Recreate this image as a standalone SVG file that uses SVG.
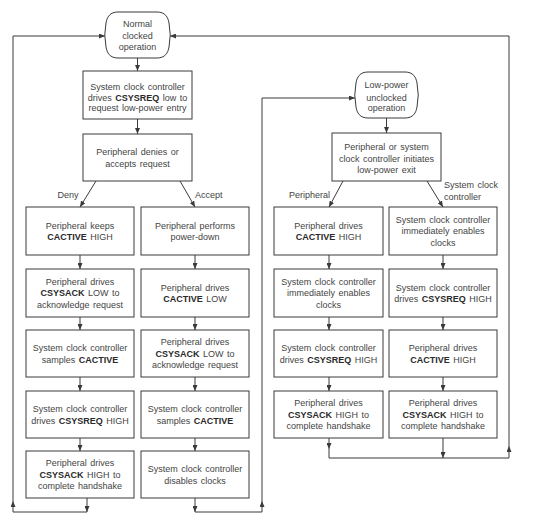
<svg xmlns="http://www.w3.org/2000/svg" width="534" height="524" viewBox="0 0 534 524">
<style>
.b{fill:#fff;stroke:#3a3a3a;stroke-width:1}
.c{fill:none;stroke:#3a3a3a;stroke-width:1}
text{font-family:"Liberation Sans",Arial,sans-serif;font-size:9px;fill:#444;text-anchor:middle;word-spacing:1px}
.k{font-weight:bold;fill:#2a2a2a}
.l{text-anchor:start}
</style>
<defs>
<marker id="a" markerWidth="6" markerHeight="5" refX="6" refY="2.5" orient="auto" markerUnits="userSpaceOnUse"><path d="M0,0 L6,2.5 L0,5 z" fill="#3a3a3a"/></marker>
</defs>
<rect width="534" height="524" fill="#fff"/>
<g id="connectors">
<path class="c" d="M137.5 58 V71" marker-end="url(#a)"/>
<path class="c" d="M137.5 119 V134" marker-end="url(#a)"/>
<path class="c" d="M96 181 L80 207" marker-end="url(#a)"/>
<path class="c" d="M180 181 L195 207" marker-end="url(#a)"/>
<path class="c" d="M80 255 V269" marker-end="url(#a)"/>
<path class="c" d="M80 317 V330" marker-end="url(#a)"/>
<path class="c" d="M80 377 V391" marker-end="url(#a)"/>
<path class="c" d="M80 438 V451" marker-end="url(#a)"/>
<path class="c" d="M195 255 V269" marker-end="url(#a)"/>
<path class="c" d="M195 317 V330" marker-end="url(#a)"/>
<path class="c" d="M195 377 V391" marker-end="url(#a)"/>
<path class="c" d="M195 438 V451" marker-end="url(#a)"/>
<path class="c" d="M87 498 V512" marker-end="url(#a)"/>
<path class="c" d="M87 512 H13 V501" marker-end="url(#a)"/>
<path class="c" d="M13 501 V36 H105" marker-end="url(#a)"/>
<path class="c" d="M195 498 V512" marker-end="url(#a)"/>
<path class="c" d="M195 512 H262 V501" marker-end="url(#a)"/>
<path class="c" d="M262 501 V98 H355" marker-end="url(#a)"/>
<path class="c" d="M386.5 118 V133" marker-end="url(#a)"/>
<path class="c" d="M343 181 L329 207" marker-end="url(#a)"/>
<path class="c" d="M427 181 L443 207" marker-end="url(#a)"/>
<path class="c" d="M329 255 V269" marker-end="url(#a)"/>
<path class="c" d="M329 317 V330" marker-end="url(#a)"/>
<path class="c" d="M329 377 V391" marker-end="url(#a)"/>
<path class="c" d="M443 255 V269" marker-end="url(#a)"/>
<path class="c" d="M443 317 V330" marker-end="url(#a)"/>
<path class="c" d="M443 377 V391" marker-end="url(#a)"/>
<path class="c" d="M329 438 V449" marker-end="url(#a)"/>
<path class="c" d="M443 438 V458" marker-end="url(#a)"/>
<path class="c" d="M329 449 V458 H509 V446" marker-end="url(#a)"/>
<path class="c" d="M509 446 V36 H170" marker-end="url(#a)"/>
<text x="68" y="197.5">Deny</text>
<text class="l" x="195" y="197.5">Accept</text>
<text class="l" x="289" y="198">Peripheral</text>
<text class="l" x="444" y="188">System clock</text>
<text class="l" x="444" y="200">controller</text>
</g>
<g id="normal">
<path class="b" d="M118 12 H157 C165 12 168 17 169 23 Q171.5 35 169 47 C168 53 165 58 157 58 H118 C110 58 107 53 106 47 Q103.5 35 106 23 C107 17 110 12 118 12 Z"/>
<text x="137.5" y="27">Normal</text>
<text x="137.5" y="39">clocked</text>
<text x="137.5" y="50">operation</text>
</g>
<g id="req-entry">
<rect class="b" x="83" y="71" width="109" height="48"/>
<text x="137.5" y="90">System clock controller</text>
<text x="137.5" y="100.5">drives <tspan class="k">CSYSREQ</tspan> low to</text>
<text x="137.5" y="111">request low-power entry</text>
</g>
<g id="deny-accept">
<rect class="b" x="83" y="134" width="109" height="47"/>
<text x="137.5" y="155">Peripheral denies or</text>
<text x="137.5" y="166.5">accepts request</text>
</g>
<g id="d1">
<rect class="b" x="26" y="207" width="108" height="48"/>
<text x="80" y="228.5">Peripheral keeps</text>
<text x="80" y="240"><tspan class="k">CACTIVE</tspan> HIGH</text>
</g>
<g id="d2">
<rect class="b" x="26" y="269" width="108" height="48"/>
<text x="80" y="284.7">Peripheral drives</text>
<text x="80" y="296.2"><tspan class="k">CSYSACK</tspan> LOW to</text>
<text x="80" y="307.7">acknowledge request</text>
</g>
<g id="d3">
<rect class="b" x="26" y="330" width="108" height="47"/>
<text x="80" y="351">System clock controller</text>
<text x="80" y="362.5">samples <tspan class="k">CACTIVE</tspan></text>
</g>
<g id="d4">
<rect class="b" x="26" y="391" width="108" height="47"/>
<text x="80" y="412">System clock controller</text>
<text x="80" y="423.5">drives <tspan class="k">CSYSREQ</tspan> HIGH</text>
</g>
<g id="d5">
<rect class="b" x="26" y="451" width="108" height="47"/>
<text x="80" y="466.2">Peripheral drives</text>
<text x="80" y="477.7"><tspan class="k">CSYSACK</tspan> HIGH to</text>
<text x="80" y="489.2">complete handshake</text>
</g>
<g id="a1">
<rect class="b" x="141" y="207" width="108" height="48"/>
<text x="195" y="228.5">Peripheral performs</text>
<text x="195" y="240">power-down</text>
</g>
<g id="a2">
<rect class="b" x="141" y="269" width="108" height="48"/>
<text x="195" y="290.5">Peripheral drives</text>
<text x="195" y="302"><tspan class="k">CACTIVE</tspan> LOW</text>
</g>
<g id="a3">
<rect class="b" x="141" y="330" width="108" height="47"/>
<text x="195" y="345.2">Peripheral drives</text>
<text x="195" y="356.7"><tspan class="k">CSYSACK</tspan> LOW to</text>
<text x="195" y="368.2">acknowledge request</text>
</g>
<g id="a4">
<rect class="b" x="141" y="391" width="108" height="47"/>
<text x="195" y="412">System clock controller</text>
<text x="195" y="423.5">samples <tspan class="k">CACTIVE</tspan></text>
</g>
<g id="a5">
<rect class="b" x="141" y="451" width="108" height="47"/>
<text x="195" y="472">System clock controller</text>
<text x="195" y="483.5">disables clocks</text>
</g>
<g id="lowpower">
<path class="b" d="M368 72 H405 C413 72 416 77 417 83 Q419.5 95 417 107 C416 113 413 118 405 118 H368 C360 118 357 113 356 107 Q353.5 95 356 83 C357 77 360 72 368 72 Z"/>
<text x="386.5" y="88">Low-power</text>
<text x="386.5" y="100.5">unclocked</text>
<text x="386.5" y="111">operation</text>
</g>
<g id="initiate-exit">
<rect class="b" x="332" y="133" width="109" height="48"/>
<text x="386.5" y="150">Peripheral or system</text>
<text x="386.5" y="161.5">clock controller initiates</text>
<text x="386.5" y="173">low-power exit</text>
</g>
<g id="p1">
<rect class="b" x="274" y="207" width="109" height="48"/>
<text x="328.5" y="228.5">Peripheral drives</text>
<text x="328.5" y="240"><tspan class="k">CACTIVE</tspan> HIGH</text>
</g>
<g id="p2">
<rect class="b" x="274" y="269" width="109" height="48"/>
<text x="328.5" y="284.7">System clock controller</text>
<text x="328.5" y="296.2">immediately enables</text>
<text x="328.5" y="307.7">clocks</text>
</g>
<g id="p3">
<rect class="b" x="274" y="330" width="109" height="47"/>
<text x="328.5" y="351">System clock controller</text>
<text x="328.5" y="362.5">drives <tspan class="k">CSYSREQ</tspan> HIGH</text>
</g>
<g id="p4">
<rect class="b" x="274" y="391" width="109" height="47"/>
<text x="328.5" y="406.2">Peripheral drives</text>
<text x="328.5" y="417.7"><tspan class="k">CSYSACK</tspan> HIGH to</text>
<text x="328.5" y="429.2">complete handshake</text>
</g>
<g id="s1">
<rect class="b" x="389" y="207" width="108" height="48"/>
<text x="443" y="222.7">System clock controller</text>
<text x="443" y="234.2">immediately enables</text>
<text x="443" y="245.7">clocks</text>
</g>
<g id="s2">
<rect class="b" x="389" y="269" width="108" height="48"/>
<text x="443" y="290.5">System clock controller</text>
<text x="443" y="302">drives <tspan class="k">CSYSREQ</tspan> HIGH</text>
</g>
<g id="s3">
<rect class="b" x="389" y="330" width="108" height="47"/>
<text x="443" y="351">Peripheral drives</text>
<text x="443" y="362.5"><tspan class="k">CACTIVE</tspan> HIGH</text>
</g>
<g id="s4">
<rect class="b" x="389" y="391" width="108" height="47"/>
<text x="443" y="406.2">Peripheral drives</text>
<text x="443" y="417.7"><tspan class="k">CSYSACK</tspan> HIGH to</text>
<text x="443" y="429.2">complete handshake</text>
</g>
</svg>
